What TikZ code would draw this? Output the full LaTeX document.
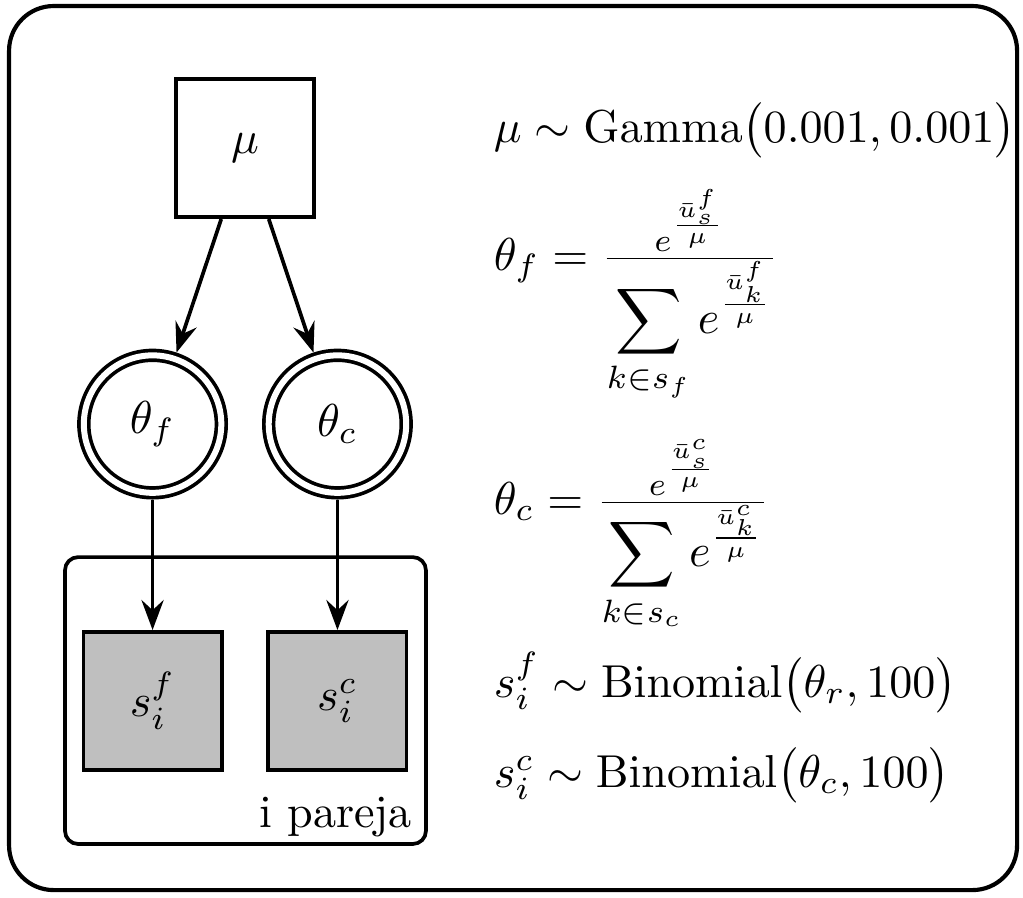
\documentclass[tikz,border=0pt]{standalone}
\usepackage{amsmath}
\usetikzlibrary{arrows.meta}
\begin{document}
\begin{tikzpicture}[
    >={Stealth[length=6.5pt,width=4.8pt,inset=2.2pt]},
    every node/.style={inner sep=0pt},
    const/.style={draw,thick,rectangle,minimum size=1.053cm},
    obs/.style={const,fill=gray!50},
    latent/.style={draw,thick,circle,double,double distance=1.3pt,minimum size=1.047cm,outer sep=1.45pt},
    edge/.style={->,thick},
    eqn/.style={anchor=base west}]
    \useasboundingbox (0,0) rectangle (7.791,6.832);
    \draw[line width=0.9pt,rounded corners=0.34cm] (0.069,0.053) rectangle (7.746,6.786);
    \node[const] (mu) at (1.866,5.704) {$\mu$};
    \node[latent] (thf) at (1.162,3.602) {$\theta_f$};
    \node[latent] (thc) at (2.570,3.602) {$\theta_c$};
    \node[obs] (sf) at (1.162,1.493) {$s_i^f$};
    \node[obs] (sc) at (2.570,1.493) {$s_i^c$};
    \draw[thick,rounded corners=0.1cm] (0.495,0.404) rectangle (3.244,2.589);
    \node[anchor=base east] (pareja) at (3.145,0.533) {i pareja};
    \draw[edge] (mu) -- (thf);
    \draw[edge] (mu) -- (thc);
    \draw[edge] (thf) -- (sf);
    \draw[edge] (thc) -- (sc);
    \node[eqn] (eqmu) at (3.755,5.750) {$\mu \sim \mathrm{Gamma}\big(0.001, 0.001\big)$};
    \node[eqn] (eqthf) at (3.755,4.775) {$\theta_f = \frac{e^{\frac{\bar{u}_s^f}{\mu}}}{\displaystyle\sum_{k\in s_f} e^{\frac{\bar{u}_k^f}{\mu}}}$};
    \node[eqn] (eqthc) at (3.755,2.917) {$\theta_c = \frac{e^{\frac{\bar{u}_s^c}{\mu}}}{\displaystyle\sum_{k\in s_c} e^{\frac{\bar{u}_k^c}{\mu}}}$};
    \node[eqn] (eqsf) at (3.755,1.523) {$s_i^f \sim \mathrm{Binomial}\big(\theta_r, 100\big)$};
    \node[eqn] (eqsc) at (3.755,0.838) {$s_i^c \sim \mathrm{Binomial}\big(\theta_c, 100\big)$};
\end{tikzpicture}
\end{document}
